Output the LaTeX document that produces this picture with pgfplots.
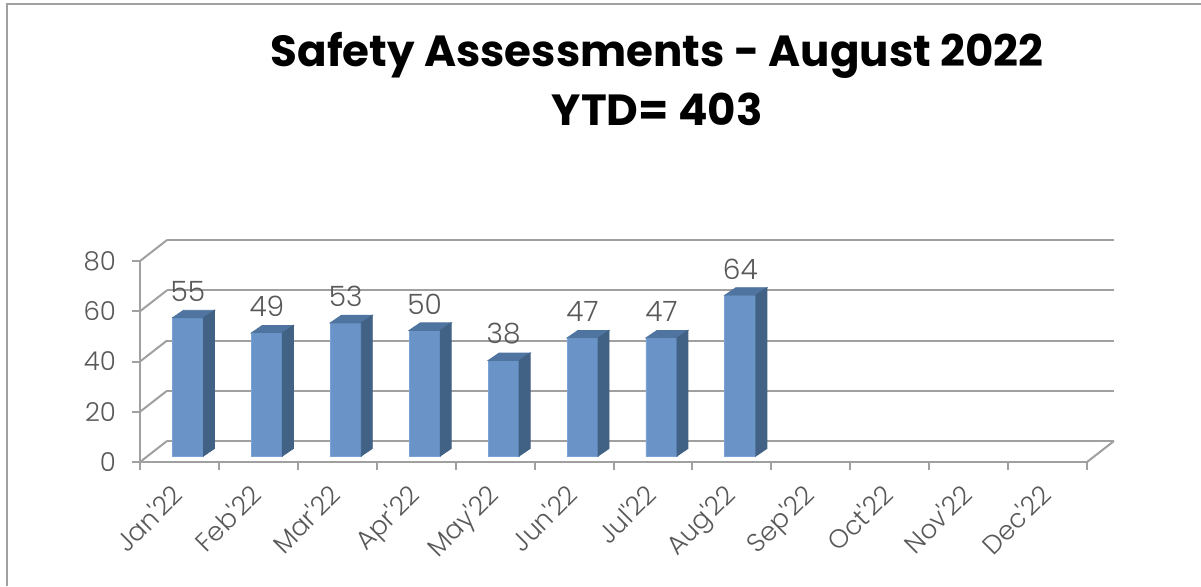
\documentclass[border=0pt]{standalone}
\usepackage{fontspec}
\setmainfont{Poppins}
\newfontfamily\labfont{Poppins Light}
\usepackage{pgfplots}
\usepackage{pgfplotstable}
\pgfplotsset{compat=1.18}

\definecolor{wallgray}{HTML}{A0A0A0}
\definecolor{labelgray}{HTML}{595959}
\definecolor{barfront}{HTML}{6A94C8}
\definecolor{baredge}{HTML}{7BA3D6}
\definecolor{bartop}{HTML}{4F74A0}
\definecolor{barside}{HTML}{416285}

\pgfplotstableread{
x v
0.5 55
1.5 49
2.5 53
3.5 50
4.5 38
5.5 47
6.5 47
7.5 64
}\safety

\pgfplotsset{common/.style={
    scale only axis, width=473.5pt, height=100.5pt,
    xmin=0, xmax=12, ymin=0, ymax=80, clip=false,
}}

\begin{document}
\begin{tikzpicture}
% 1 px of the reference = 0.5pt, origin at the front 0/Jan corner
\path[use as bounding box, fill=white] (-70pt,-62pt) rectangle ++(600.5pt,293pt);
\draw[wallgray, line width=0.9pt] (-66.5pt,-62pt) -- (-66.5pt,229pt) -- (530.5pt,229pt);

% back wall
\begin{axis}[common, at={(13.5pt,10.5pt)}, hide x axis, y axis line style={draw=none},
    ytick={0,20,40,60,80}, yticklabels={}, major tick length=0pt,
    ymajorgrids, grid style={wallgray, line width=1pt}]
\end{axis}

% front plane with ticks and labels
\begin{axis}[common,
    axis x line*=bottom, axis y line*=left,
    axis line style={wallgray, line width=1pt, -},
    ytick={0,20,40,60,80},
    xtick={0.5,1.5,...,11.5},
    xticklabels={Jan'22,Feb'22,Mar'22,Apr'22,May'22,Jun'22,Jul'22,Aug'22,Sep'22,Oct'22,Nov'22,Dec'22},
    minor xtick={0,1,...,12},
    tick align=outside, major tick length=4pt,
    every tick/.style={wallgray, line width=1pt},
    x tick style={draw=none},
    minor x tick style={wallgray, line width=1pt, draw=wallgray},
    minor tick length=4pt,
    /pgf/number format/assume math mode=true,
    tick label style={font=\labfont\fontsize{13}{15}\selectfont, text=labelgray},
    x tick label style={xshift=-4.8pt, yshift=-1.1pt, rotate=45, anchor=north east},
    y tick label style={xshift=-4.5pt},
    title={Safety Assessments - August 2022\\YTD= 403},
    title style={at={(0.546,1.58)}, anchor=south, align=center,
        font=\bfseries\fontsize{21.8}{29.5}\selectfont},
]
\pgfplotsinvokeforeach{0,20,40,60,80}{
    \draw[wallgray, line width=1pt] (axis cs:0,#1) -- ++(13.5pt,10.5pt);
}
\draw[wallgray, line width=1pt] (axis cs:12,0) -- ++(13.5pt,10.5pt);
\end{axis}

% bars, set back half way into the depth
\begin{axis}[common, at={(4.25pt,3pt)}, hide axis,
    /pgf/number format/assume math mode=true]
\addplot[ybar, bar width=15.5pt, fill=barfront, draw=baredge, line width=0.4pt,
    nodes near coords,
    every node near coord/.style={font=\labfont\fontsize{14}{16}\selectfont,
        text=labelgray, anchor=south, yshift=4.5pt}]
    table[x=x, y=v] {\safety};
\addplot[scatter, only marks, mark=none,
    visualization depends on={y \as \v},
    scatter/@pre marker code/.code={%
        \pgfmathsetmacro\h{\v*1.2563}%
        \fill[bartop] (-7.75pt,0pt) -- (-2.25pt,3.75pt) -- (13.25pt,3.75pt) -- (7.75pt,0pt) -- cycle;
        \fill[barside] (7.75pt,0pt) -- (13.25pt,3.75pt) -- (13.25pt,3.75pt-\h pt) -- (7.75pt,-\h pt) -- cycle;
    },
    scatter/@post marker code/.code={}]
    table[x=x, y=v] {\safety};
\end{axis}
\end{tikzpicture}
\end{document}
